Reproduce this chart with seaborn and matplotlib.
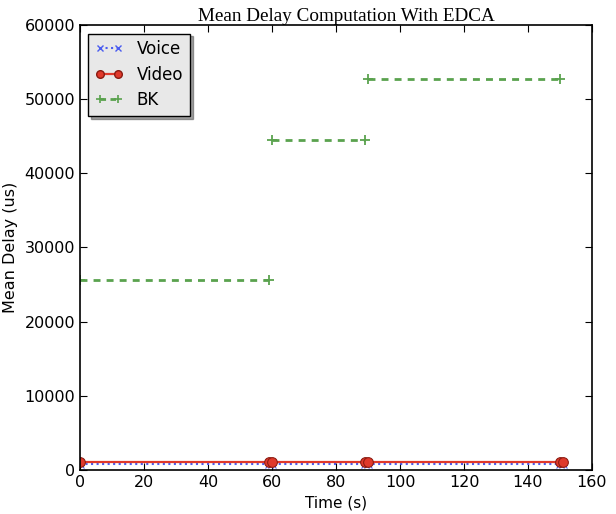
import pandas as pd
import matplotlib
matplotlib.use("Agg")
import matplotlib.pyplot as plt
import seaborn as sns
from matplotlib.lines import Line2D

# Data
time_video = [0, 59, 60, 89, 90, 150, 151]
video_delay = [1050, 1050, 1050, 1050, 1050, 1050, 1050]
time_voice = [0, 59, 60, 89, 90, 150, 151]
voice_delay = [780, 780, 780, 780, 780, 780, 780]
time_bk = [0, 59, 60, 89, 90, 150]
bk_delay = [25600, 25600, 44500, 44500, 52800, 52800]
bk_segment = [1, 1, 2, 2, 3, 3]

voice_df = pd.DataFrame({"Time": time_voice, "Delay": voice_delay})
video_df = pd.DataFrame({"Time": time_video, "Delay": video_delay})
bk_df = pd.DataFrame({"Time": time_bk, "Delay": bk_delay, "seg": bk_segment})

sns.set_style("ticks")
plt.rcParams['font.family'] = ['DejaVu Sans']
plt.rcParams['text.color'] = 'black'
plt.rcParams['axes.labelcolor'] = 'black'

fig, ax = plt.subplots(figsize=(6.16, 5.14), dpi=100)
fig.subplots_adjust(left=0.13, right=0.961, top=0.951, bottom=0.086)

voice_c = "#4a5cf0"
video_c = "#e0392b"
bk_c = "#5aa24e"
bk_dash = (2.5, 2.2)

sns.lineplot(data=voice_df, x="Time", y="Delay", ax=ax, color=voice_c,
             linestyle=":", linewidth=1.5, marker="x", markersize=6,
             markeredgecolor=voice_c, estimator=None, legend=False)
sns.lineplot(data=video_df, x="Time", y="Delay", ax=ax, color=video_c,
             linestyle="-", linewidth=1.6, marker="o", markersize=7,
             markeredgecolor="#8a1a10", estimator=None, legend=False)
sns.lineplot(data=bk_df, x="Time", y="Delay", units="seg", ax=ax, color=bk_c,
             linewidth=2, marker="+", markersize=7,
             markeredgewidth=1.3, markeredgecolor=bk_c, estimator=None, legend=False)
for l in ax.lines:
    if l.get_color() == bk_c:
        l.set_dashes(bk_dash)

ax.set_xlim(0, 160)
ax.set_ylim(0, 60000)
ax.set_xticks(range(0, 161, 20))
ax.set_yticks(range(0, 60001, 10000))
ax.tick_params(direction="in", top=True, right=True, length=5, labelsize=11.5, colors="black")
for s in ax.spines.values():
    s.set_linewidth(1.2)
    s.set_color("black")

ax.set_xlabel("Time (s)", fontsize=11)
ax.set_ylabel("Mean Delay (us)", fontsize=11.5, labelpad=5)
ax.set_title("Mean Delay Computation With EDCA", fontsize=13.8,
             family="Liberation Serif", pad=3, x=0.52)

voice_h = Line2D([], [], color=voice_c, linestyle=":", linewidth=1.5, marker="x", markersize=5)
video_h = Line2D([], [], color=video_c, linestyle="-", linewidth=1.6, marker="o",
                 markersize=5.5, markeredgecolor="#8a1a10")
bk_h = Line2D([], [], color=bk_c, linewidth=2, linestyle="--", marker="+",
              markersize=6, markeredgewidth=1.2)
bk_h.set_dashes((2, 1.6))
leg = ax.legend([voice_h, video_h, bk_h], ["Voice", "Video", "BK"], loc="upper left",
                fontsize=12, numpoints=2, shadow=True, fancybox=False, framealpha=1,
                borderaxespad=0.5, handlelength=1.7, labelspacing=0.45)
leg.get_frame().set_facecolor("#e8e8e8")
leg.get_frame().set_edgecolor("black")

plt.savefig("out.png", dpi=100)
